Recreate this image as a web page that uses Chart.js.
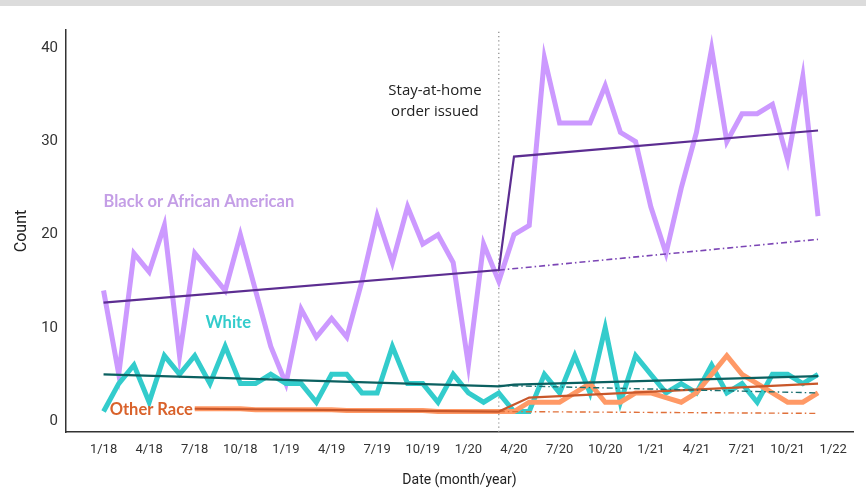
<!DOCTYPE html>
<html>
<head>
<meta charset="utf-8">
<script src="https://cdn.jsdelivr.net/npm/chart.js@4.4.1/dist/chart.umd.min.js"></script>
<style>
  html, body { margin: 0; padding: 0; background: #fff; }
  #wrap { width: 866px; height: 501px; position: relative; }
</style>
</head>
<body>
<div id="wrap"><canvas id="chart" width="866" height="501"></canvas></div>
<script>
// monthly counts, 1/18 .. 12/21 (index 0..47)
const blackCounts = [14, 5, 18, 16, 21, 7, 18, 16, 14, 20, 14, 8, 4, 12, 9, 11,
  9, 15, 22, 17, 23, 19, 20, 17, 6, 19, 15, 20, 21, 39, 32, 32,
  32, 36, 31, 30, 23, 18, 25, 31, 40, 30, 33, 33, 34, 28, 37, 22];
const whiteCounts = [1, 4, 6, 2, 7, 5, 7, 4, 8, 4, 4, 5, 4, 4, 2, 5,
  5, 3, 3, 8, 4, 4, 2, 5, 3, 2, 3, 1, 1, 5, 3, 7,
  3, 10, 2, 7, 5, 3, 4, 3, 6, 3, 4, 2, 5, 5, 4, 5];
const otherCounts = [null, null, null, null, null, null, 1.3, 1.3, 1.3, 1.3, 1.2, 1.2, 1.2, 1.2, 1.2, 1.2,
  1.1, 1.1, 1.1, 1.1, 1.1, 1.1, 1.0, 1.0, 1.0, 1.0, 1.0, 1, 2, 2, 2, 3,
  4, 2, 2, 3, 3, 2.5, 2, 3, 5, 7, 5, 4, 3, 2, 2, 3];

// fitted trends [monthIndex, count]
const blackTrend = [[0, 12.7], [26, 16.2], [27, 28.4], [47, 31.2]];
const blackCounterfactual = [[26, 16.2], [47, 19.5]];
const whiteTrend = [[0, 5.0], [26, 3.7], [27, 3.9], [47, 4.8]];
const whiteCounterfactual = [[26, 3.8], [47, 3.0]];
const otherTrend = [[6, 1.3], [26, 1.0], [28, 2.5], [47, 4.0]];
const otherCounterfactual = [[26, 1.0], [47, 0.8]];

const orderMonth = 26; // 3/20
const tickMonths = [0, 3, 6, 9, 12, 15, 18, 21, 24, 27, 30, 33, 36, 39, 42, 45, 48];
const tickLabels = ['1/18', '4/18', '7/18', '10/18', '1/19', '4/19', '7/19', '10/19', '1/20',
  '4/20', '7/20', '10/20', '1/21', '4/21', '7/21', '10/21', '1/22'];
const yTicks = [0, 10, 20, 30, 40];
const yMin = -1.2, yMax = 42;

const toPoints = arr => arr.map((v, i) => ({ x: i, y: v }));
const pairs = arr => arr.map(p => ({ x: p[0], y: p[1] }));
const dashDot = [6, 3, 1.5, 3];

const labelsPlugin = {
  id: 'labels',
  beforeDraw(chart) {
    const c = chart.ctx;
    c.save();
    c.fillStyle = '#fff';
    c.fillRect(0, 0, chart.width, chart.height);
    c.fillStyle = '#dcdcdc';
    c.fillRect(0, 0, chart.width, 6);
    c.restore();
  },
  afterDatasetsDraw(chart) {
    const c = chart.ctx;
    const xs = chart.scales.x, ys = chart.scales.y;
    c.save();
    c.textBaseline = 'middle';
    c.font = 'bold 16.5px Lato';
    c.textAlign = 'left';
    c.fillStyle = '#c49ee6';
    c.fillText('Black or African American', xs.getPixelForValue(0), ys.getPixelForValue(23.5));
    c.fillStyle = '#33cccc';
    c.textAlign = 'center';
    c.fillText('White', xs.getPixelForValue(8.2), ys.getPixelForValue(10.6));
    c.fillStyle = '#d9622b';
    c.textAlign = 'left';
    c.fillText('Other Race', xs.getPixelForValue(0.4), ys.getPixelForValue(1.2));
    c.font = '15px "Open Sans"';
    c.fillStyle = '#222';
    c.textAlign = 'center';
    const ax = xs.getPixelForValue(21.8);
    c.fillText('Stay-at-home', ax, ys.getPixelForValue(35.5));
    c.fillText('order issued', ax, ys.getPixelForValue(33.2));
    c.restore();
  }
};

new Chart(document.getElementById('chart'), {
  type: 'line',
  data: {
    datasets: [
      { data: pairs(blackTrend), borderColor: '#5c2d91', borderWidth: 2.2, order: 0 },
      { data: pairs(blackCounterfactual), borderColor: '#7b45b5', borderWidth: 1.6, borderDash: dashDot, order: 0 },
      { data: pairs(whiteTrend), borderColor: '#0b6060', borderWidth: 2.2, order: 0 },
      { data: pairs(whiteCounterfactual), borderColor: '#1a6e6e', borderWidth: 1.4, borderDash: dashDot, order: 0 },
      { data: pairs(otherTrend), borderColor: '#c8572a', borderWidth: 2.2, order: 0 },
      { data: pairs(otherCounterfactual), borderColor: '#e0703a', borderWidth: 1.4, borderDash: dashDot, order: 0 },
      { data: toPoints(otherCounts), borderColor: '#ff9966', borderWidth: 5, order: 1 },
      { data: toPoints(whiteCounts), borderColor: '#33cccc', borderWidth: 5, order: 2 },
      { data: toPoints(blackCounts), borderColor: '#cc99ff', borderWidth: 5, order: 3 },
      { data: [{ x: orderMonth, y: yMin }, { x: orderMonth, y: yMax }], borderColor: '#888',
        borderWidth: 1.2, borderDash: [1.2, 3], order: 4 }
    ]
  },
  options: {
    responsive: false,
    animation: false,
    events: [],
    layout: { padding: { left: 0, right: 13, top: 30, bottom: 0 } },
    elements: {
      point: { radius: 0 },
      line: { tension: 0, fill: false, borderJoinStyle: 'miter', borderCapStyle: 'butt' }
    },
    plugins: { legend: { display: false }, tooltip: { enabled: false } },
    scales: {
      x: {
        type: 'linear',
        min: -2.47,
        max: 49.3,
        afterBuildTicks: s => { s.ticks = tickMonths.map(v => ({ value: v })); },
        afterFit: s => { s.height = 69; },
        grid: { display: false, drawTicks: true, tickLength: 6, tickColor: '#333' },
        border: { display: true, color: '#333', width: 1.5 },
        ticks: {
          color: '#333',
          font: { family: 'Roboto', size: 13 },
          padding: 4,
          maxRotation: 0,
          autoSkip: false,
          callback: v => tickLabels[tickMonths.indexOf(v)]
        },
        title: {
          display: true,
          text: 'Date (month/year)',
          color: '#222',
          font: { family: 'Roboto', size: 14 },
          padding: { top: 0, bottom: 12 }
        }
      },
      y: {
        min: yMin,
        max: yMax,
        afterBuildTicks: s => { s.ticks = yTicks.map(v => ({ value: v })); },
        afterFit: s => { s.width = 66; },
        grid: { display: false, drawTicks: true, tickLength: 5, tickColor: '#333' },
        border: { display: true, color: '#333', width: 1.5 },
        ticks: { color: '#333', font: { family: 'Roboto', size: 15 }, padding: 3 },
        title: {
          display: true,
          text: 'Count',
          color: '#222',
          font: { family: 'Roboto', size: 16 },
          padding: { top: 12, bottom: 0 }
        }
      }
    }
  },
  plugins: [labelsPlugin]
});
</script>
</body>
</html>
